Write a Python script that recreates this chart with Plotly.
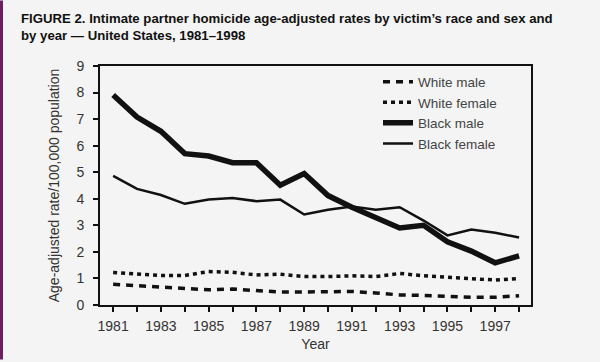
import plotly.graph_objects as go

years = list(range(1981, 1999))
white_male = [0.78, 0.72, 0.68, 0.63, 0.57, 0.60, 0.55, 0.49, 0.49, 0.50, 0.51, 0.45, 0.38, 0.36, 0.32, 0.29, 0.29, 0.35]
white_female = [1.22, 1.18, 1.11, 1.11, 1.26, 1.23, 1.13, 1.16, 1.07, 1.07, 1.10, 1.07, 1.19, 1.10, 1.04, 1.00, 0.94, 1.00]
black_male = [7.91, 7.08, 6.54, 5.70, 5.61, 5.36, 5.36, 4.51, 4.95, 4.12, 3.68, 3.31, 2.90, 3.00, 2.38, 2.03, 1.59, 1.85]
black_female = [4.86, 4.37, 4.14, 3.81, 3.97, 4.03, 3.91, 3.97, 3.41, 3.59, 3.71, 3.59, 3.68, 3.18, 2.62, 2.84, 2.72, 2.54]
tick_years = list(range(1981, 1999, 2))
title_text = ("FIGURE 2. Intimate partner homicide age-adjusted rates by victim’s race and sex and"
              "<br>by year — United States, 1981–1998")

fig = go.Figure()
fig.add_trace(go.Scatter(x=years, y=white_male, name="White male", mode="lines",
                         line=dict(color="#111", width=3.5, dash="7px,6px")))
fig.add_trace(go.Scatter(x=years, y=white_female, name="White female", mode="lines",
                         line=dict(color="#111", width=3.5, dash="4px,4px")))
fig.add_trace(go.Scatter(x=years, y=black_male, name="Black male", mode="lines",
                         line=dict(color="#111", width=5.5)))
fig.add_trace(go.Scatter(x=years, y=black_female, name="Black female", mode="lines",
                         line=dict(color="#111", width=2.5)))

font = "Liberation Sans, Arial, Helvetica, sans-serif"
fig.update_layout(
    width=600, height=362,
    margin=dict(l=100, r=69, t=66, b=55),
    paper_bgcolor="#f4f4f4", plot_bgcolor="#f4f4f4",
    font=dict(family=font, size=14, color="#333"),
    showlegend=True,
    legend=dict(x=(378 - 100) / 431, y=0.998, xanchor="left", yanchor="top",
                bgcolor="rgba(0,0,0,0)", font=dict(size=13.5, color="#444"),
                itemwidth=30, tracegroupgap=0),
    annotations=[dict(text=title_text, xref="paper", yref="paper",
                      x=-81 / 431, y=1 + 57 / 241, xanchor="left", yanchor="top",
                      align="left", showarrow=False,
                      font=dict(family=font, size=13.2, color="#111", weight="bold"))],
    xaxis=dict(range=[1980.45, 1998.5], tickmode="array", tickvals=years,
               ticktext=[str(y) if y in tick_years else "" for y in years],
               ticks="outside", ticklen=5, tickwidth=1.5, tickcolor="#111",
               ticklabelstandoff=2,
               showline=True, linecolor="#111", linewidth=2, mirror=True,
               showgrid=False, zeroline=False,
               title=dict(text="Year", font=dict(size=14, color="#333"), standoff=6)),
    yaxis=dict(range=[0, 9], tickmode="linear", dtick=1,
               ticks="outside", ticklen=5, tickwidth=1.5, tickcolor="#111",
               ticklabelstandoff=6,
               showline=True, linecolor="#111", linewidth=2, mirror=True,
               showgrid=False, zeroline=False,
               title=dict(text="Age-adjusted rate/100,000 population",
                          font=dict(size=14, color="#333"), standoff=14)),
    shapes=[dict(type="rect", xref="paper", yref="paper",
                 x0=-100 / 431, x1=-97 / 431, y0=-55 / 241, y1=1 + 66 / 241,
                 fillcolor="#6b1f5e", line=dict(width=0), layer="above")],
)

fig.write_html("out.html", config={"displayModeBar": False},
               post_script="document.body.style.margin='0';document.body.style.overflow='hidden';")
